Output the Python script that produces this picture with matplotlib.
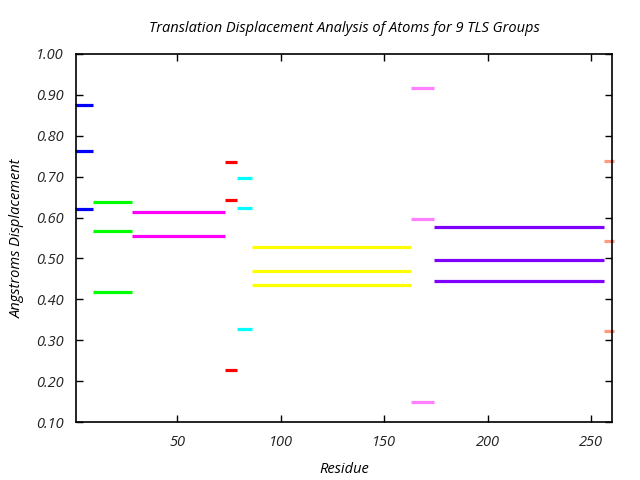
import matplotlib
matplotlib.use("Agg")
import matplotlib.pyplot as plt

# TLS group residue ranges (start, end)
group_starts = [0.6, 9, 28, 73, 79, 86, 163, 174, 256]
group_ends = [9, 28, 73, 79, 86, 163, 174, 256, 261]
group_colors = ["#0000ff", "#00ff00", "#ff00ff", "#ff0000", "#00ffff",
                "#ffff00", "#ff80ff", "#8000ff", "#ff9980"]
# three displacement values per group
disp1 = [0.875, 0.638, 0.613, 0.735, 0.696, 0.528, 0.916, 0.577, 0.738]
disp2 = [0.763, 0.567, 0.555, 0.643, 0.623, 0.469, 0.596, 0.496, 0.542]
disp3 = [0.620, 0.418, None, 0.227, 0.327, 0.435, 0.149, 0.444, 0.322]

xticks = [50, 100, 150, 200, 250]
yticks = [0.1, 0.2, 0.3, 0.4, 0.5, 0.6, 0.7, 0.8, 0.9, 1.0]

plt.rcParams['font.family'] = ['Open Sans', 'DejaVu Sans']

fig = plt.figure(figsize=(6.4, 4.8), dpi=100)
ax = fig.add_axes([76/640, 1 - 422/480, (612 - 76)/640, (422 - 54)/480])

for i in range(len(group_starts)):
    for vals in (disp1, disp2, disp3):
        v = vals[i]
        if v is None:
            continue
        ax.plot([group_starts[i], group_ends[i]], [v, v], color=group_colors[i],
                lw=2.3, solid_capstyle='butt', clip_on=False)

ax.set_xlim(1, 260)
ax.set_ylim(0.1, 1.0)
ax.set_xticks(xticks)
ax.set_yticks(yticks)
ax.set_yticklabels([f"{t:.2f}" for t in yticks])
ax.tick_params(direction='in', top=True, right=True, length=5, width=1,
               labelsize=10.5, pad=9, colors='black')
for lab in ax.get_xticklabels() + ax.get_yticklabels():
    lab.set_fontstyle('italic')
    lab.set_color('#222222')
for sp in ax.spines.values():
    sp.set_linewidth(1.2)

ax.set_title("Translation Displacement Analysis of Atoms for 9 TLS Groups",
             fontsize=10.5, style='italic', pad=16)
ax.set_xlabel("Residue", fontsize=10.5, style='italic', labelpad=9)
ax.set_ylabel("Angstroms Displacement", fontsize=10.5, style='italic', labelpad=8)

fig.savefig("out.png", dpi=100)
